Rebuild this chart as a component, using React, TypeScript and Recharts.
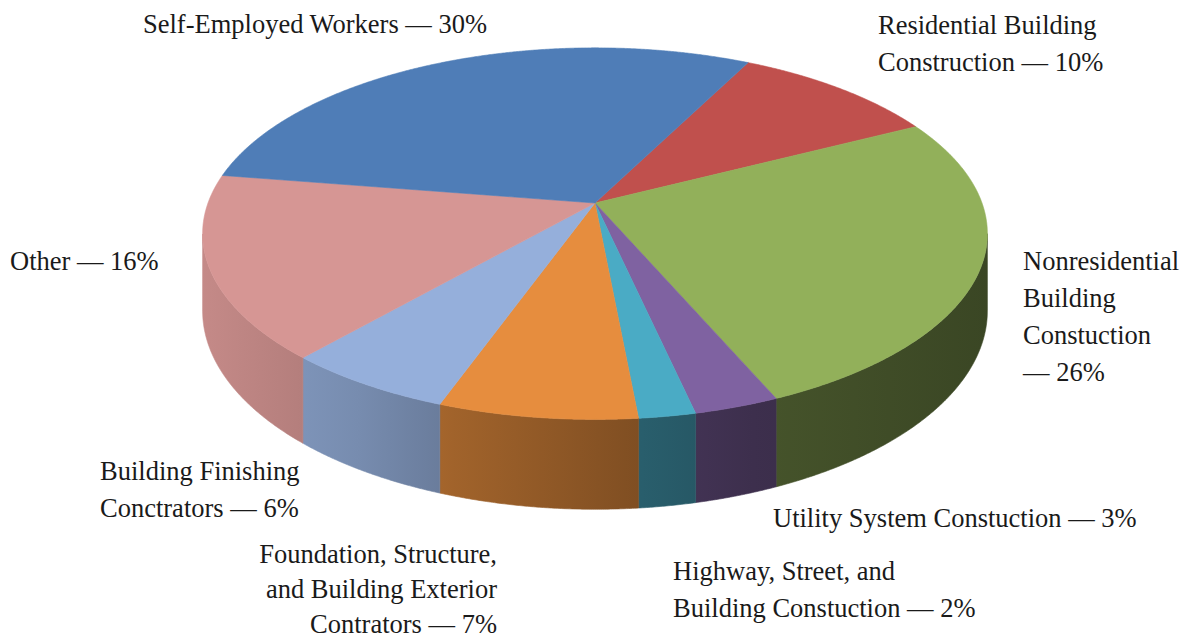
import React from "react"
import { PieChart, Pie, Cell } from "recharts"

// slices in clockwise order, starting at the Residential slice
const categories = [
  "Residential Building Construction",
  "Nonresidential Building Constuction",
  "Utility System Constuction",
  "Highway, Street, and Building Constuction",
  "Foundation, Structure, and Building Exterior Contrators",
  "Building Finishing Conctrators",
  "Other",
  "Self-Employed Workers",
]
const shares = [10, 26, 3, 2, 7, 6, 16, 30]
const colors = ["#c0504d", "#92b05a", "#7f62a1", "#4aabc5", "#e68d3e", "#95afdb", "#d69694", "#4f7db7"]

const labelLines = [
  ["Residential Building", "Construction — 10%"],
  ["Nonresidential", "Building", "Constuction", "— 26%"],
  ["Utility System Constuction — 3%"],
  ["Highway, Street, and", "Building Constuction — 2%"],
  ["Foundation, Structure,", "and Building Exterior", "Contrators — 7%"],
  ["Building Finishing", "Conctrators — 6%"],
  ["Other — 16%"],
  ["Self-Employed Workers — 30%"],
]

const data = categories.map((name, i) => ({ name, value: shares[i] }))

const W = 1188
const H = 642
const RY_RATIO = 0.467
const PERSP = 0.165
const DEPTH = 75
const FONT = 26.5

// label anchor: x, first baseline, alignment, line height
const labelPos: [number, number, "left" | "right", number][] = [
  [878, 34, "left", 37],
  [1023, 270, "left", 37],
  [773, 527, "left", 37],
  [673, 580, "left", 37],
  [497, 563, "right", 35],
  [100, 480, "left", 37],
  [10, 270, "left", 37],
  [143, 33, "left", 37],
]

function shade(hex: string, f: number) {
  const n = parseInt(hex.slice(1), 16)
  const r = Math.round(((n >> 16) & 255) * (1 - f))
  const g = Math.round(((n >> 8) & 255) * (1 - f))
  const b = Math.round((n & 255) * (1 - f))
  return `rgb(${r},${g},${b})`
}

function project(cx: number, cy: number, rx: number, deg: number, drop = 0) {
  const phi = ((90 - deg) * Math.PI) / 180
  const u = Math.sin(phi)
  const v = Math.cos(phi)
  const s = 1 / (1 + PERSP * v)
  return [cx + rx * u * s, cy - rx * RY_RATIO * v * s + drop * s, v]
}

const renderSlice = (props: any) => {
  const { cx, cy, outerRadius, startAngle, endAngle, index } = props
  const color = colors[index]
  const step = startAngle > endAngle ? -0.25 : 0.25
  const n = Math.ceil(Math.abs(endAngle - startAngle) / 0.25)
  const top: number[][] = []
  const front: number[][] = []
  const bottom: number[][] = []
  for (let i = 0; i <= n; i++) {
    const a = i === n ? endAngle : startAngle + step * i
    const p = project(cx, cy, outerRadius, a)
    top.push(p)
    if (p[2] <= -PERSP) {
      front.push(p)
      bottom.push(project(cx, cy, outerRadius, a, DEPTH))
    }
  }
  const topPath =
    `M${cx},${cy}` + top.map((p) => `L${p[0].toFixed(2)},${p[1].toFixed(2)}`).join("") + "Z"
  const sidePath =
    front.length > 1
      ? "M" +
        front.map((p) => `${p[0].toFixed(2)},${p[1].toFixed(2)}`).join("L") +
        "L" +
        bottom
          .slice()
          .reverse()
          .map((p) => `${p[0].toFixed(2)},${p[1].toFixed(2)}`)
          .join("L") +
        "Z"
      : null
  const gid = `side-grad-${index}`
  return (
    <g key={`slice-${index}`}>
      <defs>
        <linearGradient id={gid} gradientUnits="userSpaceOnUse" x1={200} y1={0} x2={990} y2={0}>
          <stop offset="0" stopColor={shade(color, 0.08)} />
          <stop offset="0.2" stopColor={shade(color, 0.2)} />
          <stop offset="0.32" stopColor={shade(color, 0.3)} />
          <stop offset="0.56" stopColor={shade(color, 0.45)} />
          <stop offset="0.7" stopColor={shade(color, 0.52)} />
          <stop offset="1" stopColor={shade(color, 0.6)} />
        </linearGradient>
      </defs>
      {sidePath && <path d={sidePath} fill={`url(#${gid})`} stroke={`url(#${gid})`} strokeWidth={0.6} />}
      <path d={topPath} fill={color} stroke={color} strokeWidth={0.6} />
    </g>
  )
}

export default function App() {
  return (
    <div style={{ position: "absolute", left: 0, top: 0, width: W, height: H, background: "#fff", overflow: "hidden" }}>
      <PieChart width={W} height={H} margin={{ top: 0, right: 0, bottom: 0, left: 0 }}>
        <Pie
          data={data}
          dataKey="value"
          nameKey="name"
          cx={595}
          cy={203}
          outerRadius={387}
          startAngle={63}
          endAngle={-297}
          stroke="none"
          label={renderSlice}
          labelLine={false}
          isAnimationActive={false}
        >
          {data.map((d, i) => (
            <Cell key={`cell-${i}`} fill="transparent" />
          ))}
        </Pie>
      </PieChart>
      {labelLines.map((lines, i) => {
        const [x, baseline, align, lh] = labelPos[i]
        const offset = (lh - FONT * 1.107) / 2 + FONT * 0.891
        const style: React.CSSProperties = {
          position: "absolute",
          top: baseline - offset,
          fontFamily: '"Liberation Serif", "DejaVu Serif", serif',
          fontSize: FONT,
          lineHeight: `${lh}px`,
          color: "#1a1a1a",
          whiteSpace: "nowrap",
          textAlign: align,
        }
        if (align === "left") style.left = x
        else style.right = W - x
        return (
          <div key={`label-${i}`} style={style}>
            {lines.map((l, j) => (
              <div key={j}>{l}</div>
            ))}
          </div>
        )
      })}
    </div>
  )
}
